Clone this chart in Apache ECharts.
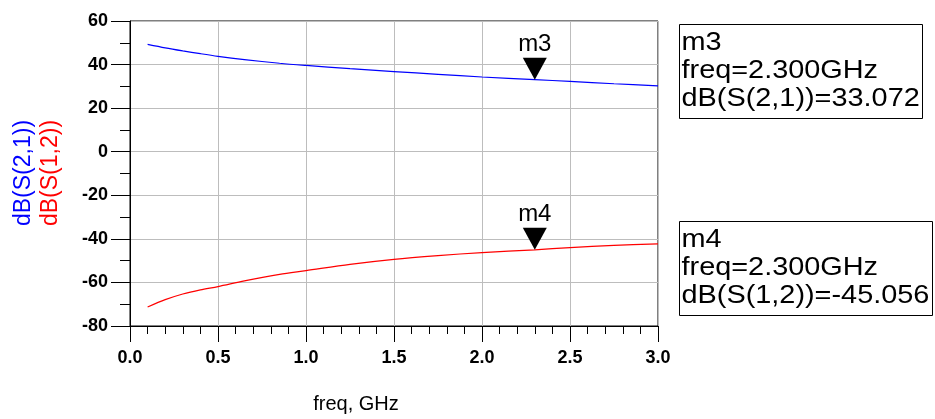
<!DOCTYPE html>
<html>
<head>
<meta charset="utf-8">
<script src="https://cdn.jsdelivr.net/npm/echarts@6/dist/echarts.min.js"></script>
<style>
  html, body { margin: 0; padding: 0; background: #fff; }
  #chart { width: 935px; height: 419px; }
</style>
</head>
<body>
<div id="chart"></div>
<script>
// frequency points (GHz)
const freq = [0.1, 0.2, 0.3, 0.4, 0.5, 0.65, 0.85, 1.0, 1.25, 1.5, 1.75, 2.0, 2.3, 2.5, 2.75, 3.0];
const s21 = [49.3, 47.7, 46.3, 45.0, 43.8, 42.3, 40.6, 39.6, 38.1, 36.8, 35.5, 34.3, 33.072, 32.3, 31.2, 30.2];
const s12 = [-71.3, -67.9, -65.3, -63.4, -61.9, -59.3, -56.3, -54.6, -51.7, -49.4, -47.7, -46.3, -45.056, -44.0, -43.0, -42.3];

const markers = [
  { name: 'm3', freq: 2.3, value: 33.072, trace: 'dB(S(2,1))' },
  { name: 'm4', freq: 2.3, value: -45.056, trace: 'dB(S(1,2))' }
];

const font = "'Liberation Sans', Arial, sans-serif";
const chart = echarts.init(document.getElementById('chart'));

const pairs = (ys) => freq.map((f, i) => [f, ys[i]]);

const markerPoint = (m) => ({
  symbol: 'path://M0,0L10,0L5,10Z',
  symbolSize: [24, 22],
  symbolOffset: [0, '-50%'],
  itemStyle: { color: '#000' },
  label: {
    show: true, position: 'top', distance: 1,
    formatter: m.name, color: '#000', fontSize: 24, fontFamily: font
  },
  data: [{ coord: [m.freq, m.value] }]
});

// marker readout box, text is a bit wide in the original so stretch it
const readout = (m, top, width) => ({
  type: 'group',
  left: 679, top: top,
  children: [
    { type: 'rect', shape: { x: 0, y: 0, width: width, height: 94 },
      style: { fill: '#fff', stroke: '#000', lineWidth: 1 } },
    { type: 'text', x: 2, y: 4, scaleX: 1.11,
      style: {
        text: m.name + '\nfreq=' + m.freq.toFixed(3) + 'GHz\n' + m.trace + '=' + m.value.toFixed(3),
        font: '26px ' + font, lineHeight: 28, fill: '#000'
      } }
  ]
});

chart.setOption({
  backgroundColor: '#fff',
  animation: false,
  grid: { left: 130, right: 277, top: 21, bottom: 93, show: true, borderColor: '#000', borderWidth: 1 },
  xAxis: {
    type: 'value', min: 0, max: 3, interval: 0.5,
    axisLine: { onZero: false, lineStyle: { color: '#000' } },
    axisTick: { length: 16, lineStyle: { color: '#000' } },
    minorTick: { show: true, splitNumber: 5, length: 8, lineStyle: { color: '#000' } },
    splitLine: { lineStyle: { color: '#bdbdbd' } },
    axisLabel: { margin: 23, fontSize: 18, fontWeight: 'bold', color: '#000', fontFamily: font,
      formatter: (v) => v.toFixed(1) }
  },
  yAxis: {
    type: 'value', min: -80, max: 60, interval: 20,
    axisLine: { lineStyle: { color: '#000' } },
    axisTick: { length: 19, lineStyle: { color: '#000' } },
    minorTick: { show: true, splitNumber: 2, length: 10, lineStyle: { color: '#000' } },
    splitLine: { lineStyle: { color: '#bdbdbd' } },
    axisLabel: { margin: 22, fontSize: 18, fontWeight: 'bold', color: '#000', fontFamily: font }
  },
  series: [
    { name: 'dB(S(2,1))', type: 'line', data: pairs(s21), smooth: 0.3, showSymbol: false,
      lineStyle: { color: '#0000ff', width: 1.2 }, markPoint: markerPoint(markers[0]) },
    { name: 'dB(S(1,2))', type: 'line', data: pairs(s12), smooth: 0.3, showSymbol: false,
      lineStyle: { color: '#ff0000', width: 1.2 }, markPoint: markerPoint(markers[1]) }
  ],
  graphic: [
    { type: 'text', x: 24, y: 173, rotation: Math.PI / 2,
      style: { text: 'dB(S(2,1))', font: '23px ' + font, fill: '#0000ff', align: 'center', verticalAlign: 'middle' } },
    { type: 'text', x: 51, y: 173, rotation: Math.PI / 2,
      style: { text: 'dB(S(1,2))', font: '23px ' + font, fill: '#ff0000', align: 'center', verticalAlign: 'middle' } },
    { type: 'text', x: 356, y: 404,
      style: { text: 'freq, GHz', font: '20px ' + font, fill: '#000', align: 'center', verticalAlign: 'middle' } },
    readout(markers[0], 24, 243),
    readout(markers[1], 221, 253)
  ]
});
</script>
</body>
</html>
